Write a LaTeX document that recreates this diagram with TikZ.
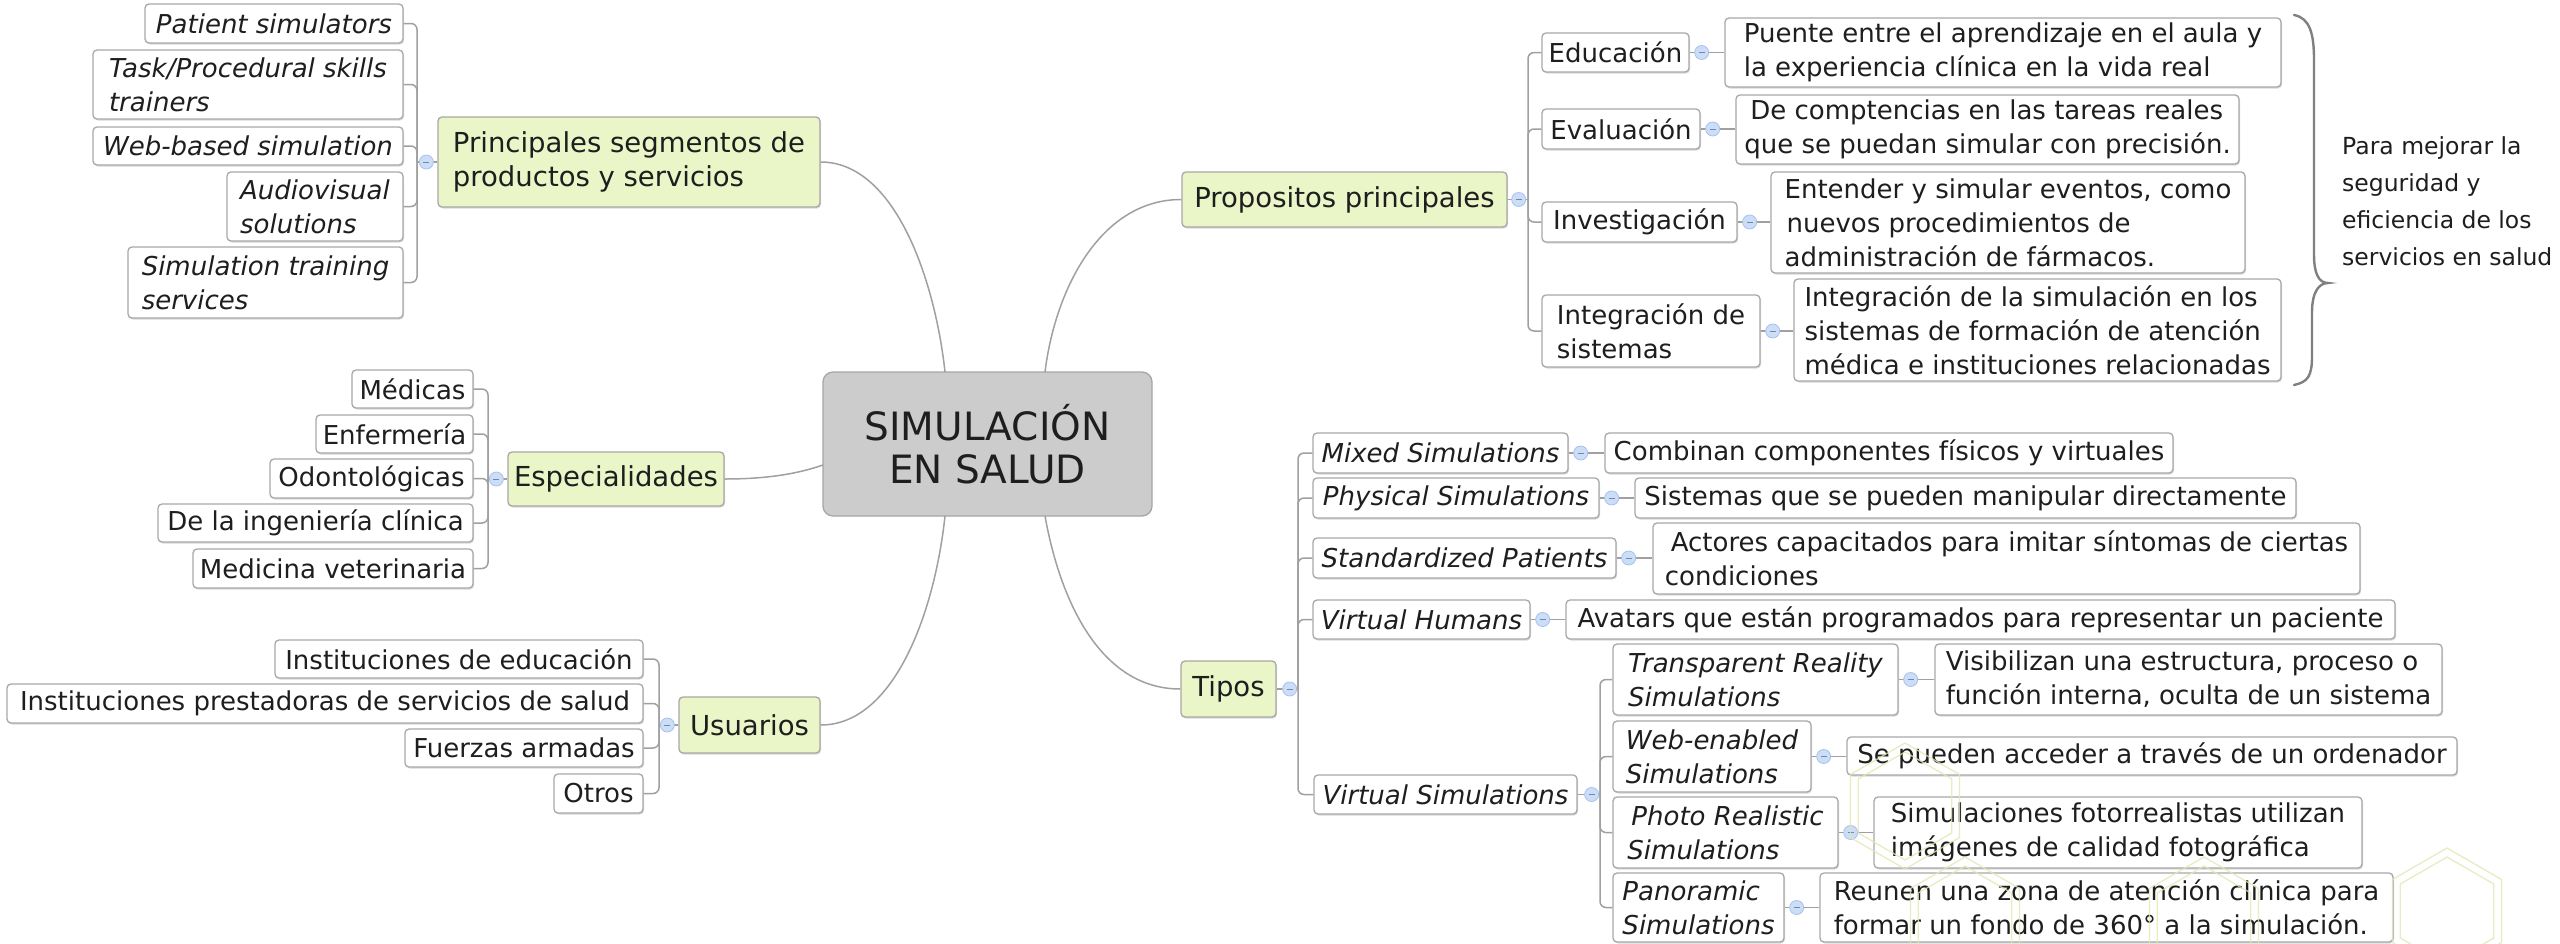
\documentclass[tikz,border=0pt]{standalone}
\usepackage{fontspec}
\setmainfont{DejaVu Sans}
\newfontfamily\notefont{DejaVu Sans}
\usetikzlibrary{shadows}
\definecolor{txt}{HTML}{1E1E1E}
\definecolor{bord}{HTML}{A8A8A8}
\definecolor{topicfill}{HTML}{EAF5C8}
\definecolor{centerfill}{HTML}{CCCCCC}
\definecolor{centerbord}{HTML}{A6A6A6}
\definecolor{conncol}{HTML}{A0A0A0}
\definecolor{dotfill}{HTML}{CCDDF7}
\definecolor{dotdraw}{HTML}{A6C2EC}
\definecolor{hexcol}{HTML}{E2E8B4}
\tikzset{
  wbox/.style={draw=bord, line width=1.3pt, fill=white, rounded corners=4pt,
    drop shadow={shadow xshift=1pt, shadow yshift=-1.5pt, fill=black, opacity=0.15}},
  tbox/.style={wbox, fill=topicfill},
  cbox/.style={draw=centerbord, line width=1.3pt, fill=centerfill, rounded corners=10pt},
  sub/.style={font=\fontsize{26}{34}\selectfont, text=txt},
  subit/.style={font=\fontsize{26}{34}\selectfont\itshape, text=txt},
  topic/.style={font=\fontsize{27.5}{34}\selectfont, text=txt},
  centertext/.style={font=\fontsize{39}{43}\selectfont, text=txt, align=center},
  conn/.style={draw=conncol, line width=1.5pt},
  elbow/.style={conn, rounded corners=6pt},
  dotn/.style={circle, minimum size=14pt, inner sep=0pt, fill=dotfill, draw=dotdraw, line width=0.8pt,
    path picture={\draw[dotdraw!70!black, line width=0.7pt] ([xshift=-3pt]path picture bounding box.center) -- ([xshift=3pt]path picture bounding box.center);}},
  hexline/.style={draw=hexcol, line width=1.3pt},
}
% #1 box style, #2 text style, #3 name, #4 x1, #5 y1, #6 x2, #7 y2, #8 text
\newcommand\bx[8]{%
  \pgfmathsetmacro\bxw{#6-#4}%
  \pgfmathsetmacro\bxh{#7-#5}%
  \pgfmathsetmacro\bxcx{(#4+#6)/2}%
  \pgfmathsetmacro\bxcy{(#5+#7)/2}%
  \node[#1, minimum width=\bxw pt, minimum height=\bxh pt, inner sep=0pt] (#3) at (\bxcx,\bxcy) {};%
  \node[#2, align=left, inner sep=0pt] (#3-t) at (#3.center) {#8};%
}
\newcommand\hexa[2]{%
  \draw[hexline] (#1) +(90:#2) -- +(30:#2) -- +(-30:#2) -- +(-90:#2) -- +(-150:#2) -- +(150:#2) -- cycle;%
}
\begin{document}
\begin{tikzpicture}[x=1pt, y=-1pt]
\useasboundingbox (0,0) rectangle (2560,943);
\fill[white] (0,0) rectangle (2560,943);

% ---------- central node
\node[cbox, minimum width=329pt, minimum height=144pt, inner sep=0pt] (center) at (987.5,444) {};
\node[centertext, inner sep=0pt] (center-t) at (center.center) {SIMULACIÓN\\EN SALUD};
\coordinate (ctl) at (945,372);
\coordinate (ctr) at (1045,372);
\coordinate (cbl) at (945,516);
\coordinate (cbr) at (1045,516);
\coordinate (cl) at (823,465);

% ---------- main topics
\bx{tbox}{topic}{prin}{438}{117}{820}{207}{Principales segmentos de\\productos y servicios}
\bx{tbox}{topic}{esp}{508}{452}{724}{506}{Especialidades}
\bx{tbox}{topic}{usu}{679}{697}{820}{753}{Usuarios}
\bx{tbox}{topic}{prop}{1182}{172}{1507}{227}{Propositos principales}
\bx{tbox}{topic}{tipos}{1181}{661}{1276}{717}{Tipos}

% ---------- main curves
\draw[conn] (ctl) .. controls (935,280) and (895,162) .. (prin.east);
\draw[conn] (cl) .. controls (800,473) and (770,479) .. (esp.east);
\draw[conn] (cbl) .. controls (935,610) and (895,725) .. (usu.east);
\draw[conn] (ctr) .. controls (1055,290) and (1100,199.5) .. (prop.west);
\draw[conn] (cbr) .. controls (1060,600) and (1100,689) .. (tipos.west);

% ---------- Principales children
\bx{wbox}{subit}{ps1}{145}{4}{403}{43}{Patient simulators}
\bx{wbox}{subit}{ps2}{93}{50}{403}{119}{Task/Procedural skills\\trainers}
\bx{wbox}{subit}{ps3}{93}{127}{403}{165}{Web-based simulation}
\bx{wbox}{subit}{ps4}{227}{172}{403}{241}{Audiovisual\\solutions}
\bx{wbox}{subit}{ps5}{128}{247}{403}{318}{Simulation training\\services}
\coordinate (sprin) at (417,162);
\draw[conn] (prin.west) -- (sprin);
\foreach \c in {ps1,ps2,ps3,ps4,ps5}{\draw[elbow] (sprin) |- (\c.east);}
\node[dotn] (dprin) at ([xshift=-11pt]prin.west) {};

% ---------- Especialidades children
\bx{wbox}{sub}{es1}{352}{370}{473}{408}{Médicas}
\bx{wbox}{sub}{es2}{316}{415}{473}{453}{Enfermería}
\bx{wbox}{sub}{es3}{270}{459}{473}{498}{Odontológicas}
\bx{wbox}{sub}{es4}{158}{504}{473}{542}{De la ingeniería clínica}
\bx{wbox}{sub}{es5}{193}{549}{473}{588}{Medicina veterinaria}
\coordinate (sesp) at (488,479);
\draw[conn] (esp.west) -- (sesp);
\foreach \c in {es1,es2,es3,es4,es5}{\draw[elbow] (sesp) |- (\c.east);}
\node[dotn] (desp) at ([xshift=-11pt]esp.west) {};

% ---------- Usuarios children
\bx{wbox}{sub}{us1}{275}{640}{643}{678}{Instituciones de educación}
\bx{wbox}{sub}{us2}{7}{684}{643}{723}{Instituciones prestadoras de servicios de salud}
\bx{wbox}{sub}{us3}{405}{729}{643}{767}{Fuerzas armadas}
\bx{wbox}{sub}{us4}{554}{774}{643}{813}{Otros}
\coordinate (susu) at (659,725);
\draw[conn] (usu.west) -- (susu);
\foreach \c in {us1,us2,us3,us4}{\draw[elbow] (susu) |- (\c.east);}
\node[dotn] (dusu) at ([xshift=-11pt]usu.west) {};

% ---------- Propositos children
\bx{wbox}{sub}{pr1}{1542}{33}{1689}{72}{Educación}
\bx{wbox}{sub}{pr2}{1542}{109}{1700}{149}{Evaluación}
\bx{wbox}{sub}{pr3}{1542}{202}{1737}{242}{Investigación}
\bx{wbox}{sub}{pr4}{1542}{295}{1760}{367}{Integración de\\sistemas}
\bx{wbox}{sub}{d1}{1725}{18}{2281}{87}{Puente entre el aprendizaje en el aula y\\la experiencia clínica en la vida real}
\bx{wbox}{sub}{d2}{1736}{95}{2239}{164}{\hspace*{6pt}De comptencias en las tareas reales\\que se puedan simular con precisión.}
\bx{wbox}{sub}{d3}{1771}{172}{2245}{273}{Entender y simular eventos, como\\\hspace*{2pt}nuevos procedimientos de\\administración de fármacos.}
\bx{wbox}{sub}{d4}{1794}{279}{2281}{381}{Integración de la simulación en los\\sistemas de formación de atención\\médica e instituciones relacionadas}
\coordinate (sprop) at (1528,199.5);
\draw[conn] (prop.east) -- (sprop);
\foreach \c in {pr1,pr2,pr3,pr4}{\draw[elbow] (sprop) |- (\c.west);}
\foreach \a/\b in {pr1/d1,pr2/d2,pr3/d3,pr4/d4}{
  \draw[conn] (\a.east) -- (\a.east -| \b.west);
  \node[dotn] at ([xshift=12pt]\a.east) {};
}
\node[dotn] (dprop) at ([xshift=11pt]prop.east) {};

% brace and note
\draw[draw=black!50, line width=2.4pt, line cap=round]
  (2294,15) .. controls (2310,18) and (2314,34) .. (2314,60) -- (2314,255)
  .. controls (2314,274) and (2319,283) .. (2328,283)
  .. controls (2319,283) and (2312,292) .. (2312,312) -- (2312,356)
  .. controls (2312,376) and (2308,382) .. (2294,385);
\node[anchor=west, align=left, inner sep=0pt, text=txt, font=\notefont\fontsize{23.5}{37}\selectfont] (note) at (2342,201) {Para mejorar la\\seguridad y\\eficiencia de los\\servicios en salud};

% ---------- Tipos children
\bx{wbox}{subit}{t1}{1313}{433}{1568}{473}{Mixed Simulations}
\bx{wbox}{subit}{t2}{1313}{478}{1599}{518}{Physical Simulations}
\bx{wbox}{subit}{t3}{1313}{538}{1616}{578}{Standardized Patients}
\bx{wbox}{subit}{t4}{1313}{600}{1530}{639}{Virtual Humans}
\bx{wbox}{subit}{t5}{1314}{775}{1577}{814}{Virtual Simulations}
\bx{wbox}{sub}{td1}{1605}{433}{2173}{473}{Combinan componentes físicos y virtuales}
\bx{wbox}{sub}{td2}{1635}{478}{2296}{518}{Sistemas que se pueden manipular directamente}
\bx{wbox}{sub}{td3}{1653}{523}{2360}{594}{\hspace*{6pt}Actores capacitados para imitar síntomas de ciertas\\condiciones}
\bx{wbox}{sub}{td4}{1566}{600}{2395}{639}{Avatars que están programados para representar un paciente}
\coordinate (stip) at (1298,689);
\draw[conn] (tipos.east) -- (stip);
\foreach \c in {t1,t2,t3,t4,t5}{\draw[elbow] (stip) |- (\c.west);}
\foreach \a/\b in {t1/td1,t2/td2,t3/td3,t4/td4}{
  \draw[conn] (\a.east) -- (\a.east -| \b.west);
  \node[dotn] at ([xshift=12pt]\a.east) {};
}
\node[dotn] (dtip) at ([xshift=13pt]tipos.east) {};

% ---------- Virtual Simulations children
\bx{wbox}{subit}{v1}{1613}{644}{1898}{715}{Transparent Reality\\Simulations}
\bx{wbox}{subit}{v2}{1613}{721}{1811}{792}{Web-enabled\\Simulations}
\bx{wbox}{subit}{v3}{1613}{797}{1838}{868}{\hspace*{4pt}Photo Realistic\\Simulations}
\bx{wbox}{subit}{v4}{1613}{873}{1784}{942}{Panoramic\\Simulations}
\bx{wbox}{sub}{vd1}{1935}{644}{2442}{715}{Visibilizan una estructura, proceso o\\función interna, oculta de un sistema}
\bx{wbox}{sub}{vd2}{1847}{737}{2457}{775}{Se pueden acceder a través de un ordenador}
\bx{wbox}{sub}{vd3}{1874}{797}{2362}{868}{Simulaciones fotorrealistas utilizan\\imágenes de calidad fotográfica}
\bx{wbox}{sub}{vd4}{1820}{873}{2393}{942}{Reunen una zona de atención clínica para\\formar un fondo de 360° a la simulación.}
\coordinate (svs) at (1600,794.5);
\draw[conn] (t5.east) -- (svs);
\foreach \c in {v1,v2,v3,v4}{\draw[elbow] (svs) |- (\c.west);}
\foreach \a/\b in {v1/vd1,v2/vd2,v3/vd3,v4/vd4}{
  \draw[conn] (\a.east) -- (\a.east -| \b.west);
  \node[dotn] at ([xshift=12pt]\a.east) {};
}
\node[dotn] (dvs) at ([xshift=14pt]t5.east) {};

% ---------- faint hexagon watermark
\begin{scope}[opacity=0.8]
\coordinate (h1) at (1905,806);
\coordinate (h2) at (1965,920);
\coordinate (h3) at (2204,920);
\coordinate (h4) at (2447,911);
\foreach \h in {h1,h2,h3,h4}{\hexa{\h}{63}\hexa{\h}{54}}
\end{scope}
\end{tikzpicture}
\end{document}
